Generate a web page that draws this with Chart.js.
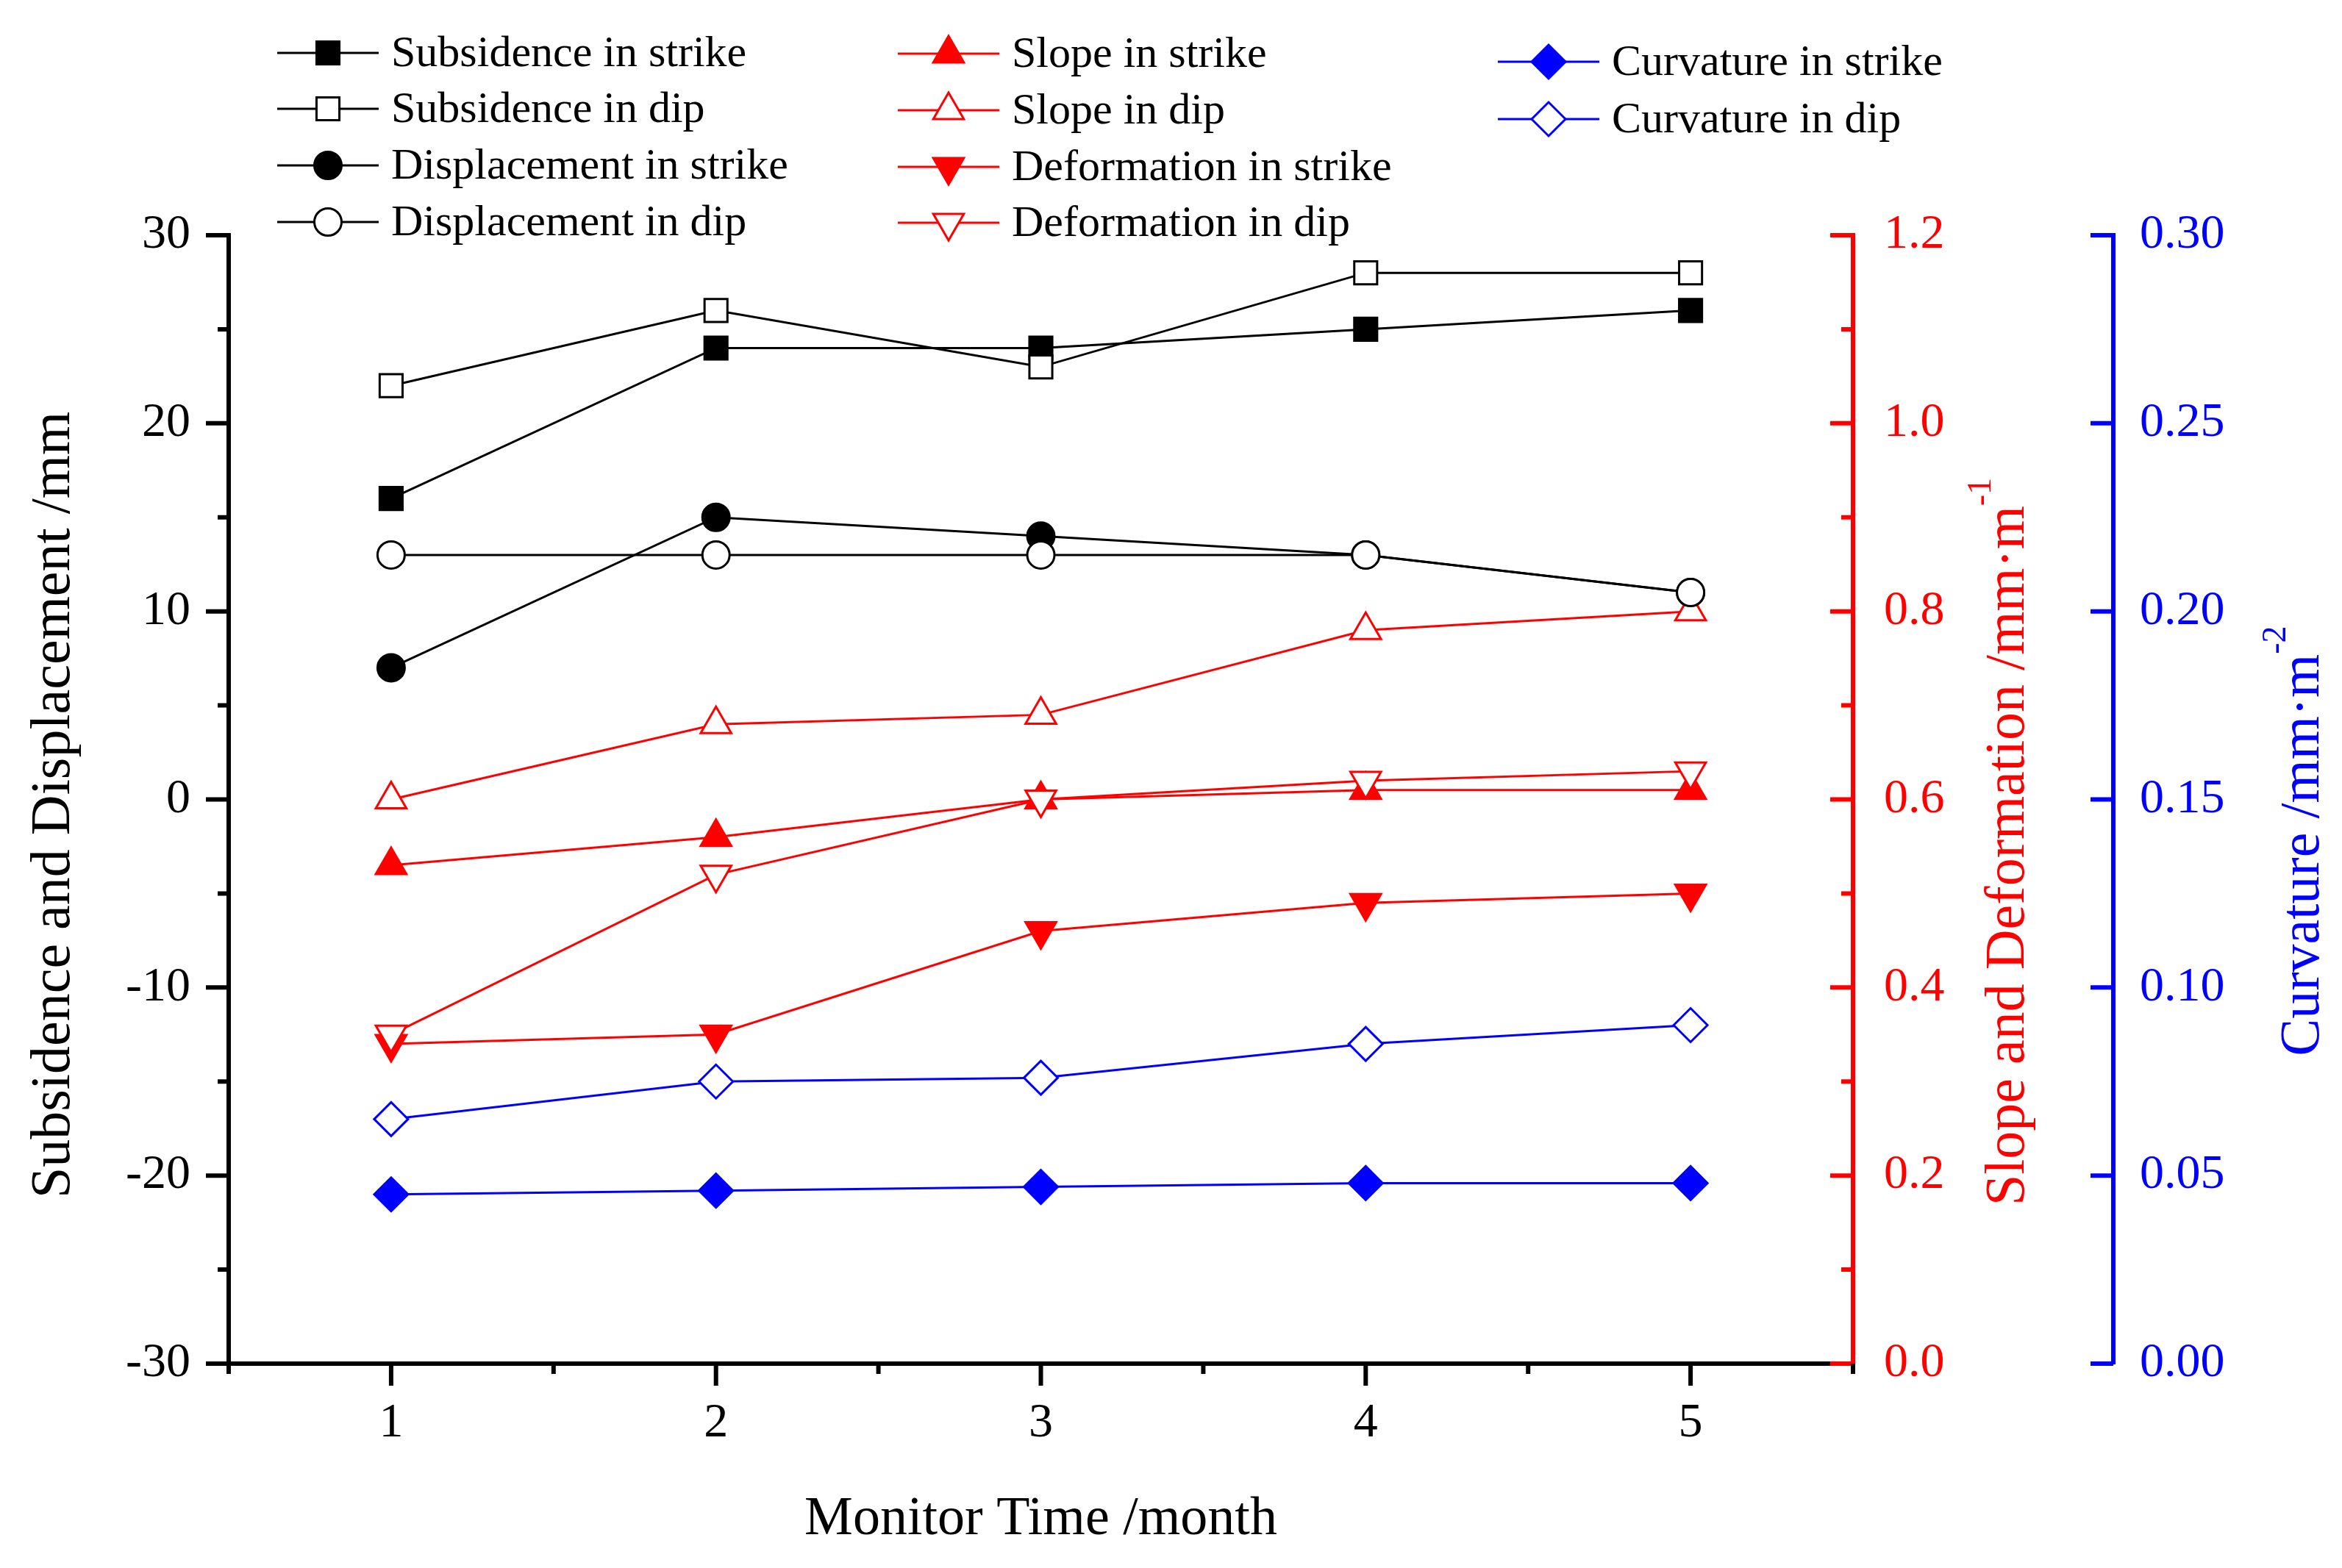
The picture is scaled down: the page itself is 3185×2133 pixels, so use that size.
<!DOCTYPE html>
<html>
<head>
<meta charset="utf-8">
<script src="https://cdn.jsdelivr.net/npm/chart.js@4.4.1/dist/chart.umd.min.js"></script>
<style>
  html, body { margin: 0; padding: 0; background: #ffffff; }
  #wrap { width: 3185px; height: 2133px; }
</style>
</head>
<body>
<div id="wrap"><canvas id="lineChart"></canvas></div>
<script>
// ========================== DATA ==========================
const months = [1, 2, 3, 4, 5];
const leftTicks = [-30, -20, -10, 0, 10, 20, 30];
const slopeTicks = [0.0, 0.2, 0.4, 0.6, 0.8, 1.0, 1.2];
const curvTicks = [0.00, 0.05, 0.10, 0.15, 0.20, 0.25, 0.30];

// mm
const subsidenceStrike = [16, 24, 24, 25, 26];
const subsidenceDip = [22, 26, 23, 28, 28];
const displacementStrike = [7, 15, 14, 13, 11];
const displacementDip = [13, 13, 13, 13, 11];
// mm/m
const slopeStrike = [0.53, 0.56, 0.60, 0.61, 0.61];
const slopeDip = [0.60, 0.68, 0.69, 0.78, 0.80];
const deformationStrike = [0.34, 0.35, 0.46, 0.49, 0.50];
const deformationDip = [0.35, 0.52, 0.60, 0.62, 0.63];
// mm/m2
const curvatureStrike = [0.045, 0.046, 0.047, 0.048, 0.048];
const curvatureDip = [0.065, 0.075, 0.076, 0.085, 0.090];

// ========================== STYLE ==========================
const FONT = "'Liberation Serif', 'Times New Roman', serif";
const BLACK = "#000000";
const RED = "#ff0000";
const BLUE = "#0000ff";
const AXIS_W = 6;

// ========================== DATASETS ==========================
function series(label, values, axis, color, style, filled, radius, rotation, order) {
  return {
    label,
    data: months.map((m, i) => ({ x: m, y: values[i] })),
    yAxisID: axis,
    borderColor: color,
    borderWidth: 3,
    fill: false,
    tension: 0,
    pointStyle: style,
    pointRadius: radius,
    pointHoverRadius: radius,
    pointRotation: rotation,
    pointBackgroundColor: filled ? color : "#ffffff",
    pointBorderColor: color,
    pointBorderWidth: 3,
    order
  };
}

const datasets = [
  series("Subsidence in strike", subsidenceStrike, "y", BLACK, "rect", true, 22, 0, 1),
  series("Subsidence in dip", subsidenceDip, "y", BLACK, "rect", false, 22, 0, 0),
  series("Displacement in strike", displacementStrike, "y", BLACK, "circle", true, 18.5, 0, 1),
  series("Displacement in dip", displacementDip, "y", BLACK, "circle", false, 18.5, 0, 0),
  series("Slope in strike", slopeStrike, "y1", RED, "triangle", true, 24, 0, 1),
  series("Slope in dip", slopeDip, "y1", RED, "triangle", false, 24, 0, 0),
  series("Deformation in strike", deformationStrike, "y1", RED, "triangle", true, 24, 180, 1),
  series("Deformation in dip", deformationDip, "y1", RED, "triangle", false, 24, 180, 0),
  series("Curvature in strike", curvatureStrike, "y2", BLUE, "rectRot", true, 23, 0, 1),
  series("Curvature in dip", curvatureDip, "y2", BLUE, "rectRot", false, 23, 0, 0)
];

// legend block: column x (line start), row y, dataset indexes
const legendCols = [
  { x: 377, rows: [72, 148, 225, 302], items: [0, 1, 2, 3] },
  { x: 1221, rows: [73, 150, 227, 303], items: [4, 5, 6, 7] },
  { x: 2037, rows: [84, 162], items: [8, 9] }
];

// ========================== HELPERS ==========================
const mids = arr => arr.slice(1).map((v, i) => (v + arr[i]) / 2);

function drawTicksV(ctx, scale, x0, values, len, color) {
  ctx.save();
  ctx.strokeStyle = color;
  ctx.lineWidth = AXIS_W;
  ctx.beginPath();
  values.forEach(v => {
    const p = scale.getPixelForValue(v);
    ctx.moveTo(x0, p);
    ctx.lineTo(x0 - len, p);
  });
  ctx.stroke();
  ctx.restore();
}

function drawTicksH(ctx, scale, y0, values, len, color) {
  ctx.save();
  ctx.strokeStyle = color;
  ctx.lineWidth = AXIS_W;
  ctx.beginPath();
  values.forEach(v => {
    const p = scale.getPixelForValue(v);
    ctx.moveTo(p, y0);
    ctx.lineTo(p, y0 + len);
  });
  ctx.stroke();
  ctx.restore();
}

// text with optional superscript parts, centred on (x, y) baseline
function drawRichText(ctx, parts, x, y, size, color, angle) {
  ctx.save();
  ctx.translate(x, y);
  ctx.rotate(angle);
  ctx.fillStyle = color;
  ctx.textAlign = "left";
  ctx.textBaseline = "alphabetic";
  const supSize = Math.round(size * 0.6);
  const widths = parts.map(p => {
    ctx.font = `${p.sup ? supSize : size}px ${FONT}`;
    return ctx.measureText(p.text).width;
  });
  let cx = -widths.reduce((a, b) => a + b, 0) / 2;
  parts.forEach((p, i) => {
    ctx.font = `${p.sup ? supSize : size}px ${FONT}`;
    ctx.fillText(p.text, cx, p.sup ? -size * 0.59 : 0);
    cx += widths[i];
  });
  ctx.restore();
}

function drawLegendItem(ctx, ds, x, y) {
  ctx.save();
  ctx.strokeStyle = ds.borderColor;
  ctx.lineWidth = ds.borderWidth;
  ctx.beginPath();
  ctx.moveTo(x, y);
  ctx.lineTo(x + 138, y);
  ctx.stroke();
  ctx.fillStyle = ds.pointBackgroundColor;
  ctx.strokeStyle = ds.pointBorderColor;
  ctx.lineWidth = ds.pointBorderWidth;
  Chart.helpers.drawPoint(ctx, {
    pointStyle: ds.pointStyle,
    radius: ds.pointRadius,
    rotation: ds.pointRotation,
    borderWidth: ds.pointBorderWidth
  }, x + 69, y);
  ctx.fillStyle = BLACK;
  ctx.font = `60px ${FONT}`;
  ctx.textAlign = "left";
  ctx.textBaseline = "middle";
  ctx.fillText(ds.label, x + 155, y + 2);
  ctx.restore();
}

// ========================== PLUGIN ==========================
const decor = {
  id: "decor",
  afterDraw(chart) {
    const ctx = chart.ctx;
    const { x, y, y1, y2 } = chart.scales;
    const area = chart.chartArea;

    // tick marks
    drawTicksV(ctx, y, y.right, leftTicks, 31, BLACK);
    drawTicksV(ctx, y, y.right, mids(leftTicks), 15, BLACK);
    drawTicksV(ctx, y1, y1.left, slopeTicks, 31, RED);
    drawTicksV(ctx, y1, y1.left, mids(slopeTicks), 16, RED);
    drawTicksV(ctx, y2, y2.left, curvTicks, 31, BLUE);
    drawTicksH(ctx, x, x.top, months, 30, BLACK);
    const xMinor = [months[0] - 0.5, ...mids(months), months[months.length - 1] + 0.5];
    drawTicksH(ctx, x, x.top, xMinor, 14, BLACK);

    // axis titles
    drawRichText(ctx, [{ text: "Subsidence and Displacement /mm" }], 94, 1095, 76, BLACK, -Math.PI / 2);
    drawRichText(ctx, [{ text: "Monitor Time /month" }], (area.left + area.right) / 2, 2087, 74, BLACK, 0);
    drawRichText(ctx, [{ text: "Slope and Deformation /mm\u00b7m" }, { text: "-1", sup: true }],
      2752, 1145, 76, RED, -Math.PI / 2);
    drawRichText(ctx, [{ text: "Curvature /mm\u00b7m" }, { text: "-2", sup: true }],
      3153, 1144, 76, BLUE, -Math.PI / 2);

    // legend
    legendCols.forEach(col => {
      col.items.forEach((idx, r) => {
        drawLegendItem(ctx, chart.data.datasets[idx], col.x, col.rows[r]);
      });
    });
  }
};

// ========================== CHART ==========================
function tickFont() {
  return { family: FONT, size: 66 };
}

new Chart(document.getElementById("lineChart"), {
  type: "line",
  data: { datasets },
  plugins: [decor],
  options: {
    responsive: true,
    maintainAspectRatio: false,
    devicePixelRatio: 1,
    animation: false,
    layout: { padding: { top: 320, left: 0, right: 0, bottom: 0 } },
    plugins: {
      legend: { display: false },
      tooltip: { enabled: false }
    },
    scales: {
      x: {
        type: "linear",
        position: "bottom",
        min: 0.5,
        max: 5.5,
        afterBuildTicks: s => { s.ticks = months.map(v => ({ value: v })); },
        afterFit: s => { s.height = 278; },
        grid: { display: false, drawTicks: false },
        border: { display: true, color: BLACK, width: AXIS_W },
        ticks: { color: BLACK, font: tickFont(), padding: 42, maxRotation: 0, autoSkip: false,
          callback: v => String(v) }
      },
      y: {
        type: "linear",
        position: "left",
        min: -30,
        max: 30,
        afterBuildTicks: s => { s.ticks = leftTicks.map(v => ({ value: v })); },
        afterFit: s => { s.width = 311; },
        grid: { display: false, drawTicks: false },
        border: { display: true, color: BLACK, width: AXIS_W },
        ticks: { color: BLACK, font: tickFont(), padding: 52, callback: v => String(v) }
      },
      y1: {
        type: "linear",
        position: "right",
        weight: 1,
        min: 0,
        max: 1.2,
        afterBuildTicks: s => { s.ticks = slopeTicks.map(v => ({ value: v })); },
        afterFit: s => { s.width = 354; },
        grid: { display: false, drawTicks: false },
        border: { display: true, color: RED, width: AXIS_W },
        ticks: { color: RED, font: tickFont(), padding: 42, callback: v => Number(v).toFixed(1) }
      },
      y2: {
        type: "linear",
        position: "right",
        weight: 2,
        min: 0,
        max: 0.3,
        afterBuildTicks: s => { s.ticks = curvTicks.map(v => ({ value: v })); },
        afterFit: s => { s.width = 311; },
        grid: { display: false, drawTicks: false },
        border: { display: true, color: BLUE, width: AXIS_W },
        ticks: { color: BLUE, font: tickFont(), padding: 36, callback: v => Number(v).toFixed(2) }
      }
    }
  }
});
</script>
</body>
</html>
